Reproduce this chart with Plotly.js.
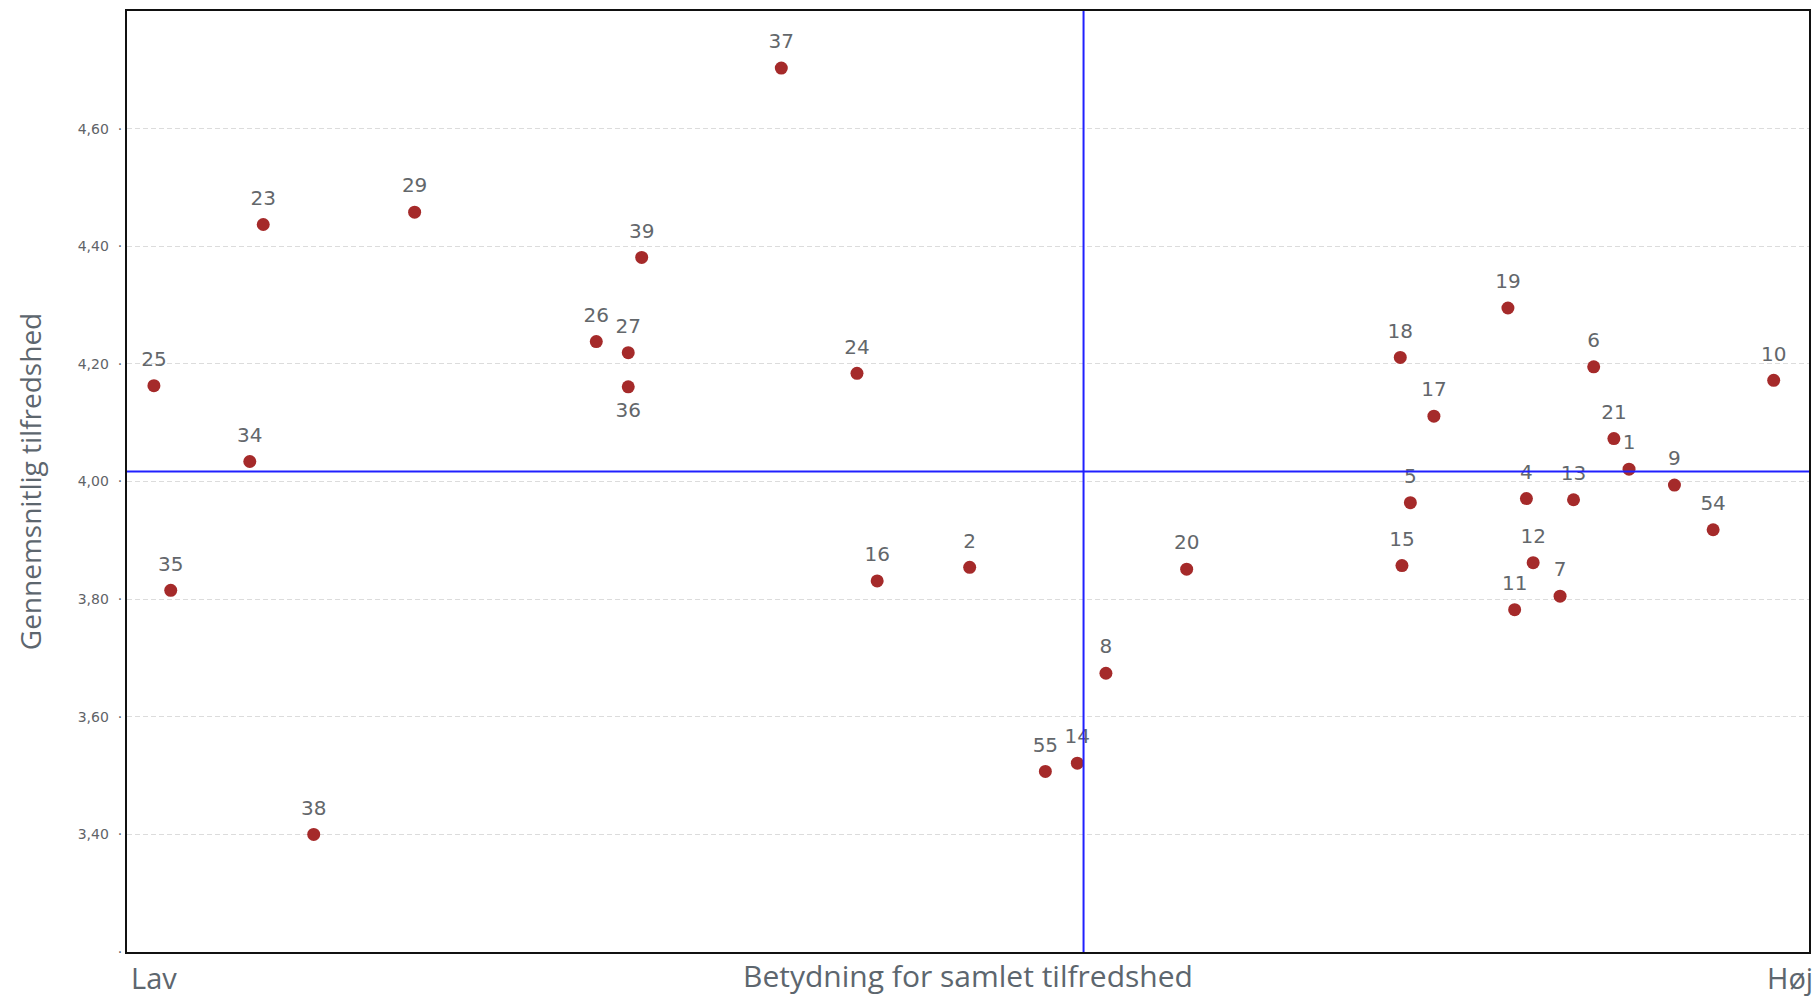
<!DOCTYPE html>
<html>
<head>
<meta charset="utf-8">
<script src="https://cdn.plot.ly/plotly-3.0.1.min.js"></script>
<style>html,body{margin:0;padding:0;background:#fff;}#chart{width:1819px;height:998px;}</style>
</head>
<body>
<div id="chart"></div>
<script>
// Item numbers
const labels = ["37","23","29","39","26","27","36","24","25","34","35","38","16","2","55","14","8","20",
                "18","17","19","6","10","21","1","9","54","5","4","13","15","12","7","11"];
// Betydning for samlet tilfredshed (relative scale 0-100, Lav -> Høj)
const importance = [38.9,8.1,17.1,30.6,27.9,29.8,29.8,43.4,1.6,7.3,2.6,11.1,44.6,50.1,54.6,56.5,58.2,63.0,
                    75.7,77.7,82.1,87.2,97.9,88.4,89.3,92.0,94.3,76.3,83.2,86.0,75.8,83.6,85.2,82.5];
// Gennemsnitlig tilfredshed
const satisfaction = [4.703,4.437,4.458,4.381,4.238,4.219,4.161,4.184,4.163,4.034,3.815,3.400,3.831,3.854,3.507,3.521,3.674,3.851,
                      4.211,4.111,4.295,4.195,4.172,4.073,4.021,3.994,3.918,3.964,3.971,3.969,3.857,3.862,3.805,3.782];
const labelPos = labels.map(l => l === "36" ? "bottom center" : "top center");

// Average reference lines
const avgImportance = 56.87;
const avgSatisfaction = 4.017;

// Axis ticks
const yTickVals = [3.2,3.4,3.6,3.8,4.0,4.2,4.4,4.6];
const yTickText = ["","3,40","3,60","3,80","4,00","4,20","4,40","4,60"];
const xRange = [0,100];
const yRange = [3.2,4.8];

const titleFont = {family: "Open Sans", size: 30, color: "#5d666e"};
const endFont = {family: "Open Sans", size: 29, color: "#5d666e"};

const traces = [
  {
    x: importance, y: satisfaction, type: "scatter", mode: "markers",
    marker: {size: 13, color: "#a52a2a"}, hoverinfo: "x+y", showlegend: false
  },
  {
    x: importance, y: satisfaction, type: "scatter", mode: "markers+text",
    text: labels, textposition: labelPos,
    textfont: {family: "DejaVu Sans", size: 20, color: "#63676b"},
    marker: {size: 22, color: "rgba(0,0,0,0)"}, hoverinfo: "skip", showlegend: false
  }
];

const layout = {
  width: 1819, height: 998,
  margin: {l: 127, r: 10, t: 11, b: 46},
  paper_bgcolor: "#ffffff", plot_bgcolor: "#ffffff",
  xaxis: {
    range: xRange, showgrid: false, zeroline: false, showticklabels: false, ticks: "",
    showline: true, mirror: true, linecolor: "#111", linewidth: 2,
    title: {text: "Betydning for samlet tilfredshed", standoff: 13, font: titleFont}
  },
  yaxis: {
    range: yRange, tickmode: "array", tickvals: yTickVals,
    ticktext: yTickText.map(t => t + "  ·"),
    tickfont: {family: "DejaVu Sans", size: 14, color: "#5f6368"},
    showgrid: true, gridcolor: "#dcdcdc", gridwidth: 1, griddash: "5px,3px",
    zeroline: false, ticks: "",
    showline: true, mirror: true, linecolor: "#111", linewidth: 2,
    title: {text: "Gennemsnitlig tilfredshed", standoff: 28,
            font: {family: "Open Sans", size: 28, color: "#5d666e"}}
  },
  shapes: [
    {type: "line", xref: "paper", x0: 0, x1: 1, yref: "y", y0: avgSatisfaction, y1: avgSatisfaction,
     line: {color: "#2020ff", width: 2}},
    {type: "line", yref: "paper", y0: 0, y1: 1, xref: "x", x0: avgImportance, x1: avgImportance,
     line: {color: "#2020ff", width: 2}}
  ],
  annotations: [
    {text: "Lav", xref: "paper", yref: "paper", x: 0, y: 0, xanchor: "left", yanchor: "top",
     xshift: 2, yshift: -4, showarrow: false, font: endFont},
    {text: "Høj", xref: "paper", yref: "paper", x: 1, y: 0, xanchor: "right", yanchor: "top",
     xshift: 6, yshift: -4, showarrow: false, font: endFont}
  ]
};

Plotly.newPlot("chart", traces, layout, {displayModeBar: false, staticPlot: true});
</script>
</body>
</html>
